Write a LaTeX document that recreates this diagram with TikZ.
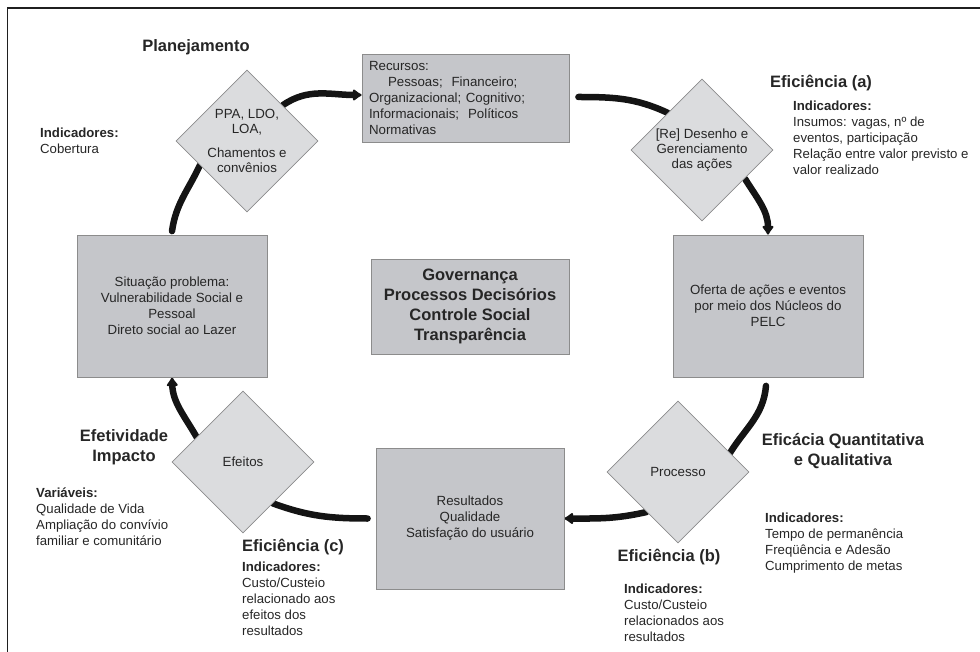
\documentclass[tikz,border=0pt]{standalone}
\usepackage{fontspec}
\setmainfont{Liberation Sans}
\usetikzlibrary{shapes.geometric,arrows.meta,backgrounds,calc}
\definecolor{boxg}{RGB}{197,198,202}
\definecolor{diag}{RGB}{219,220,222}
\definecolor{edg}{RGB}{140,140,140}
\definecolor{txt}{RGB}{38,38,38}
\tikzset{
  box/.style={draw=edg, fill=boxg, line width=0.8pt, text=txt, font=\fontsize{13.3}{16}\selectfont, align=center, inner sep=0pt},
  dia/.style={diamond, aspect=1, draw=edg, fill=diag, line width=0.8pt, text=txt, font=\fontsize{13.3}{15.3}\selectfont, align=center, minimum width=142pt, minimum height=142pt, inner sep=-6pt},
  head/.style={font=\bfseries\fontsize{16.5}{20}\selectfont, text=txt, align=center, inner sep=0pt},
  note/.style={font=\fontsize{13.2}{16}\selectfont, text=txt, align=left, inner sep=0pt, anchor=west},
  flow/.style={line width=6.5pt, draw=black!92, line cap=round, -{Latex[length=10pt,width=14pt,round]}},
  link/.style={line width=6.5pt, draw=black!92, line cap=round},
}
\begin{document}
\begin{tikzpicture}[x=1pt,y=-1pt]
\useasboundingbox (0,0) rectangle (980,652);
% frame
\draw[line width=1.8pt, black!88] (980,8) -- (7.5,8) -- (7.5,652);

% boxes
\node[box, align=left, text width=193pt, inner xsep=7pt, minimum height=88pt] (rec) at (465.5,98)
  {Recursos:\\\hspace*{19pt}Pessoas;\ \ Financeiro;\\Organizacional; Cognitivo;\\Informacionais;\ \ Políticos\\Normativas};
\node[box, minimum width=190pt, minimum height=142pt] (situ) at (172,306)
  {Situação problema:\\Vulnerabilidade Social e\\Pessoal\\Direto social ao Lazer};
\node[box, font=\bfseries\fontsize{16.5}{20}\selectfont, minimum width=198pt, minimum height=95pt] (gov) at (470,306.5)
  {Governança\\Processos Decisórios\\Controle Social\\Transparência};
\node[box, minimum width=190pt, minimum height=142pt] (ofe) at (768,306)
  {Oferta de ações e eventos\\por meio dos Núcleos do\\PELC};
\node[box, minimum width=188pt, minimum height=141pt] (res) at (470,518.5)
  {Resultados\\Qualidade\\Satisfação do usuário};

% diamonds
\node[dia] (ppa) at (247,141) {PPA, LDO,\\LOA,\\[8pt]Chamentos e\\convênios};
\node[dia] (re) at (702,150) {[Re] Desenho e\\Gerenciamento\\das ações};
\node[dia] (pro) at (678,472) {Processo};
\node[dia] (efe) at (243,462) {Efeitos};

% labels
\node[head] (plan) at (196,47) {Planejamento};
\node[note] (indp) at (40,141) {\textbf{Indicadores:}\\Cobertura};
\node[head, anchor=west] (efa) at (770,83) {Eficiência (a)};
\node[note] (inda) at (793,138) {\textbf{Indicadores:}\\Insumos: vagas, nº de\\eventos, participação\\Relação entre valor previsto e\\valor realizado};
\node[head] (efq) at (843,451) {Eficácia Quantitativa\\e Qualitativa};
\node[note] (indq) at (765,543) {\textbf{Indicadores:}\\Tempo de permanência\\Freqüência e Adesão\\Cumprimento de metas};
\node[head] (efb) at (669,557) {Eficiência (b)};
\node[note] (indb) at (624,613) {\textbf{Indicadores:}\\Custo/Custeio\\relacionados aos\\resultados};
\node[head] (efet) at (124,447) {Efetividade\\Impacto};
\node[note] (var) at (36,517) {\textbf{Variáveis:}\\Qualidade de Vida\\Ampliação do convívio\\familiar e comunitário};
\node[head, anchor=west] (efc) at (242,547) {Eficiência (c)};
\node[note] (indc) at (242,599) {\textbf{Indicadores:}\\Custo/Custeio\\relacionado aos\\efeitos dos\\resultados};

% connectors
\begin{pgfonlayer}{background}
\draw[flow] (ppa.north east) to[out=35,in=180] ([yshift=3pt]rec.west);
\draw[link] ([xshift=9pt,yshift=1pt]rec.east) to[out=0,in=155] ($(re.west)!0.52!(re.north)$);
\draw[flow] ($(re.east)!0.4!(re.south)$) to[out=-58,in=90] (ofe.north);
\draw[link] ([xshift=-2pt,yshift=-8.5pt]ofe.south) to[out=-95,in=58] ($(pro.north)!0.73!(pro.east)$);
\draw[flow] ($(pro.west)!0.56!(pro.south)$) to[out=193,in=0] (res.east);
\draw[link] ([xshift=-8pt]res.west) to[out=180,in=-20] ($(efe.east)!0.58!(efe.south)$);
\draw[flow] ($(efe.west)!0.35!(efe.north)$) to[out=120,in=-88] (situ.south);
\draw[link] ([yshift=3.5pt]situ.north) to[out=82,in=245] ($(ppa.west)!0.34!(ppa.south)$);
\end{pgfonlayer}
\end{tikzpicture}
\end{document}
